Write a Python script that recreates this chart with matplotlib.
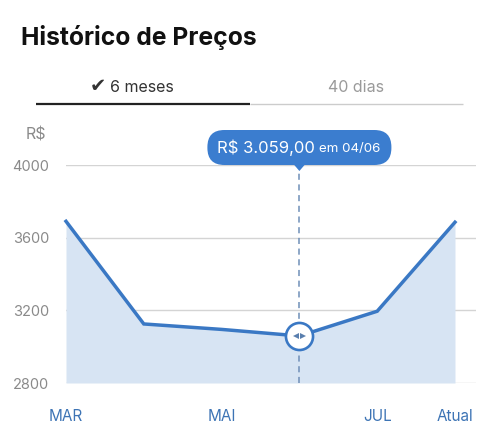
import matplotlib
matplotlib.use("Agg")
import matplotlib.pyplot as plt
from matplotlib.patches import FancyBboxPatch, Polygon
from matplotlib.transforms import offset_copy

# ---- data ----
months = ["MAR", "ABR", "MAI", "JUN", "JUL", "Atual"]
x_pos = [0, 1, 2, 3, 4, 5]
prices = [3690, 3125, 3095, 3059, 3195, 3685]
tick_pos = [0, 2, 4, 5]
tick_labels = ["MAR", "MAI", "JUL", "Atual"]
y_ticks = [2800, 3200, 3600, 4000]
sel_index = 3
sel_label_price = "R$ 3.059,00"
sel_label_date = "em 04/06"
title = "Histórico de Preços"
tab_check = "✔"
tab_labels = ["6 meses", "40 dias"]

FONT = ["Inter", "DejaVu Sans"]
plt.rcParams["font.family"] = FONT

W, H = 500, 444
fig = plt.figure(figsize=(W / 100, H / 100), dpi=100)

LINE = "#3a78c4"
FILL = "#d7e4f3"
LBL = "#3d74b5"
GRAY = "#8a8a8a"

ax = fig.add_axes([66 / W, 1 - 383 / H, 410 / W, (383 - 165) / H])
ax.set_xlim(0, 5.27)
ax.set_ylim(2800, 4000)
for s in ax.spines.values():
    s.set_visible(False)
ax.set_yticks(y_ticks)
ax.set_yticklabels([str(v) for v in y_ticks], color=GRAY, fontsize=10.5)
ax.set_xticks(tick_pos)
ax.set_xticklabels(tick_labels, color=LBL, fontsize=11)
ax.tick_params(axis="both", length=0)
ax.tick_params(axis="y", pad=12)
ax.tick_params(axis="x", pad=19)
for v in y_ticks:
    ax.axhline(v, color="#d4d4d4", lw=1.0, zorder=1)

ax.fill_between(x_pos, prices, 2800, color=FILL, lw=0, zorder=2)
ax.plot(x_pos, prices, color=LINE, lw=2.5, solid_joinstyle="miter", zorder=3, clip_on=False)

# dashed selection line
ax.plot([x_pos[sel_index]] * 2, [2800, 4000], color="#6f8fb8", lw=1.1,
        dashes=(4, 3), zorder=4, clip_on=False)

# selection marker
ax.plot([x_pos[sel_index]], [prices[sel_index]], "o", ms=19.5, mfc="white",
        mec=LINE, mew=1.9, zorder=6, clip_on=False)
tl = offset_copy(ax.transData, fig=fig, x=-3.2, y=0, units="dots")
tr = offset_copy(ax.transData, fig=fig, x=3.2, y=0, units="dots")
ax.plot([x_pos[sel_index]], [prices[sel_index]], "<", ms=4.4, color="#5a7fae",
        mew=0, transform=tl, zorder=7, clip_on=False)
ax.plot([x_pos[sel_index]], [prices[sel_index]], ">", ms=4.4, color="#5a7fae",
        mew=0, transform=tr, zorder=7, clip_on=False)

# overlay in pixel coordinates (top-down)
ov = fig.add_axes([0, 0, 1, 1], zorder=10)
ov.set_xlim(0, W)
ov.set_ylim(H, 0)
ov.axis("off")

ov.text(21, 37, title, fontsize=17.8, fontweight="bold", color="#111111",
        ha="left", va="center")
ov.text(98, 87, tab_check, fontsize=14, color="#333333", ha="center", va="center",
        family=["DejaVu Sans"], fontweight="bold")
ov.text(110, 87, tab_labels[0], fontsize=11.5, color="#333333", ha="left", va="center")
ov.text(356, 87, tab_labels[1], fontsize=11.5, color="#9a9a9a", ha="center", va="center")
ov.plot([36, 250], [104, 104], color="#222222", lw=1.6, solid_capstyle="butt")
ov.plot([250, 463], [104, 104], color="#cccccc", lw=1.0, solid_capstyle="butt")
ov.text(26, 135, "R$", fontsize=11.5, color=GRAY, ha="left", va="center")

# tooltip
fig.canvas.draw()
px, py = ax.transData.transform((x_pos[sel_index], 4000))
cx = px
TBLUE = "#3b7dcf"
bx0, bx1, by0, by1 = cx - 92, cx + 92, 130, 165
box = FancyBboxPatch((bx0, by0), bx1 - bx0, by1 - by0,
                     boxstyle="round,pad=0,rounding_size=17",
                     fc=TBLUE, ec="none")
ov.add_patch(box)
ov.add_patch(Polygon([[cx - 6, 164], [cx + 6, 164], [cx, 171]], closed=True,
                     fc=TBLUE, ec="none"))
ov.text(cx - 82, 148, sel_label_price, fontsize=12.0, color="white",
        ha="left", va="center")
ov.text(cx + 81, 149, sel_label_date, fontsize=9.6, color="white",
        ha="right", va="center")

fig.savefig("out.png", dpi=100)
